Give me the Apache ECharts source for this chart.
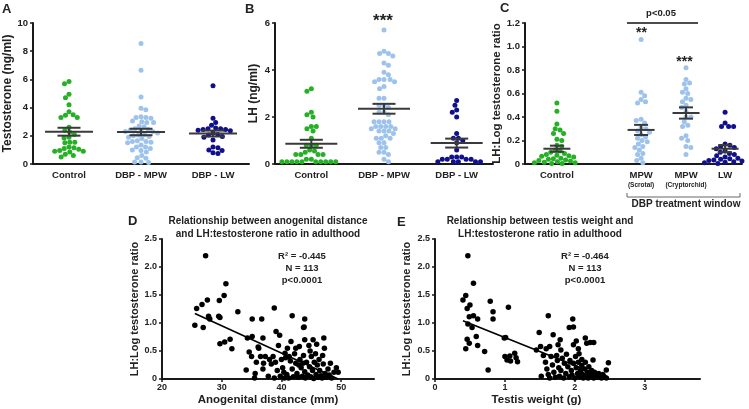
<!DOCTYPE html>
<html><head><meta charset="utf-8">
<script src="https://cdn.jsdelivr.net/npm/echarts@6/dist/echarts.min.js"></script>
<style>html,body{margin:0;padding:0;background:#fff}#c{width:749px;height:409px}</style>
</head><body><div id="c"></div>
<script>
// ---------------- data ----------------
const groupsAB = ['Control', 'DBP - MPW', 'DBP - LW'];
const groupsC = ['Control', 'MPW', 'MPW', 'LW'];
const groupsCsub = ['', '(Scrotal)', '(Cryptorchid)', ''];

const testoControl = [5.85, 5.7, 4.95, 4.7, 4.2, 3.7, 3.5, 3.45, 3.3, 3.3, 2.6, 2.4, 2.25, 2.1, 1.9, 1.85, 1.55, 1.55, 1.5, 1.2, 1.15, 1.1, 1.05, 0.95, 0.9, 0.9, 0.85, 0.7, 0.6, 0.5];
const testoMPW = [8.55, 6.65, 4.75, 3.95, 3.85, 3.35, 3.3, 3.3, 3.25, 3.05, 3.0, 2.95, 2.95, 2.7, 2.65, 2.5, 2.45, 2.4, 2.35, 2.3, 2.3, 2.2, 2.1, 2.05, 2.0, 1.95, 1.9, 1.8, 1.65, 1.6, 1.6, 1.55, 1.5, 1.35, 1.2, 1.2, 1.1, 1.0, 0.95, 0.85, 0.6, 0.45, 0.4, 0.15, 0.15, 0.1];
const testoLW = [5.55, 3.25, 2.95, 2.75, 2.55, 2.5, 2.5, 2.45, 2.45, 2.4, 2.35, 2.2, 2.1, 2.05, 1.95, 1.9, 1.7, 1.2, 1.15, 1.0, 0.95, 0.8, 0.75];

const lhControl = [3.2, 3.1, 2.2, 2.1, 2.0, 1.6, 1.6, 1.5, 1.4, 1.1, 0.8, 0.8, 0.8, 0.6, 0.55, 0.5, 0.4, 0.4, 0.4, 0.4, 0.2, 0.2, 0.1, 0.1, 0.1, 0.1, 0.1, 0.1, 0.1, 0.1, 0.1, 0.1];
const lhMPW = [5.7, 4.8, 4.7, 4.7, 4.6, 4.3, 4.2, 3.9, 3.8, 3.6, 3.6, 3.6, 3.5, 3.5, 3.3, 3.2, 2.8, 2.8, 2.5, 2.5, 2.4, 2.2, 2.2, 2.1, 1.8, 1.8, 1.8, 1.8, 1.6, 1.6, 1.6, 1.6, 1.5, 1.5, 1.4, 1.4, 1.4, 1.3, 1.2, 1.1, 1.1, 1.1, 0.9, 0.9, 0.7, 0.7, 0.5, 0.5, 0.4, 0.2, 0.1];
const lhLW = [2.7, 2.5, 2.3, 2.2, 2.0, 1.3, 1.1, 1.1, 1.0, 0.9, 0.6, 0.3, 0.3, 0.3, 0.2, 0.2, 0.2, 0.2, 0.1, 0.1, 0.1, 0.1, 0.1];

const ratioControl = [0.52, 0.45, 0.34, 0.3, 0.29, 0.26, 0.26, 0.21, 0.2, 0.16, 0.15, 0.12, 0.11, 0.1, 0.09, 0.08, 0.075, 0.07, 0.065, 0.06, 0.05, 0.045, 0.04, 0.035, 0.03, 0.025, 0.02, 0.015, 0.01, 0.01, 0.005, 0.005];
const ratioScrotal = [1.06, 0.61, 0.58, 0.55, 0.53, 0.52, 0.38, 0.37, 0.35, 0.31, 0.3, 0.28, 0.27, 0.25, 0.23, 0.22, 0.2, 0.19, 0.17, 0.15, 0.14, 0.12, 0.09, 0.08, 0.05, 0.03, 0.01];
const ratioCrypto = [0.82, 0.72, 0.69, 0.68, 0.64, 0.61, 0.6, 0.56, 0.55, 0.53, 0.5, 0.48, 0.45, 0.4, 0.4, 0.36, 0.33, 0.32, 0.24, 0.22, 0.2, 0.15, 0.14, 0.08];
const ratioLW = [0.44, 0.35, 0.32, 0.32, 0.32, 0.17, 0.16, 0.15, 0.14, 0.13, 0.11, 0.1, 0.09, 0.08, 0.07, 0.06, 0.05, 0.045, 0.04, 0.035, 0.03, 0.025, 0.02, 0.015, 0.01, 0.005];

const meanA = [2.29, 2.27, 2.16], semA = [0.28, 0.23, 0.21];
const meanB = [0.86, 2.35, 0.89], semB = [0.17, 0.21, 0.19];
const meanC = [0.13, 0.29, 0.434, 0.13], semC = [0.026, 0.043, 0.048, 0.03];

const agdPoints = [[27.3,2.20],[30.7,1.70],[30.4,1.49],[29.6,1.40],[27.6,1.41],[26.7,1.33],[25.8,1.26],[32.7,1.20],[38.8,1.27],[27.8,1.12],[28.0,1.07],[29.5,1.12],[29.7,1.10],[25.5,0.96],[26.9,0.92],[35.1,1.07],[36.7,1.07],[41.8,1.13],[43.9,1.07],[43.7,0.92],[43.8,0.93],[29.7,0.63],[30.5,0.66],[31.4,0.71],[34.3,0.73],[35.1,0.76],[36.9,0.73],[39.1,0.85],[39.7,0.78],[31.7,0.54],[34.6,0.48],[36.1,0.57],[41.6,0.67],[42.4,0.55],[43.9,0.70],[45.3,0.70],[47.1,0.73],[40.6,0.46],
[34.1,0.16],[35.6,0.10],[35.5,0.02],[35.0,0.40],[35.8,0.30],[36.5,0.40],[37.3,0.40],[37.0,0.28],[36.2,0.55],[38.0,0.35],[38.3,0.27],[38.6,0.40],[39.0,0.30],[39.3,0.15],[39.8,0.05],[40.0,0.35],[40.2,0.20],[40.4,0.12],[40.7,0.38],[41.0,0.55],[41.2,0.02],[41.5,0.32],[41.8,0.18],[42.0,0.04],[42.2,0.45],[42.4,0.28],[42.6,0.10],[42.8,0.03],[43.0,0.58],[43.1,0.35],[43.3,0.20],[43.5,0.05],[43.7,0.42],[43.9,0.13],[44.0,0.02],[44.2,0.30],[44.4,0.07],[44.6,0.60],[44.7,0.22],[44.9,0.04],[45.0,0.40],[45.2,0.15],[45.4,0.01],[45.5,0.30],[45.7,0.45],[45.8,0.08],[46.0,0.25],[46.1,0.03],[46.3,0.35],[46.4,0.15],[46.6,0.06],[46.8,0.02],[47.0,0.27],[47.2,0.55],[47.3,0.10],[47.5,0.03],[47.8,0.18],[48.0,0.07],[48.2,0.28],[48.4,0.02],[48.8,0.12],[49.2,0.20],[49.5,0.12],[37.8,0.05],[38.8,0.02],[40.9,0.08],[42.9,0.25],[44.8,0.50],[46.9,0.42],[39.5,0.60],[36.9,0.18],[41.3,0.40],[45.9,0.62],[43.6,0.28],[40.5,0.02]];

const testisPoints = [[0.47,2.20],[0.55,1.71],[0.44,1.49],[0.40,1.41],[0.50,1.32],[0.46,1.26],[0.49,1.11],[0.55,1.13],[0.61,1.07],[0.47,0.98],[0.53,0.92],[0.79,1.39],[0.83,1.20],[0.83,1.07],[1.05,1.28],[0.46,0.71],[0.49,0.64],[0.44,0.54],[0.59,0.76],[0.61,0.60],[0.71,0.49],[0.76,0.16],[0.99,0.73],[1.01,0.74],[1.00,0.40],[1.07,0.41],[1.03,0.34],[1.08,0.32],[1.14,0.46],[1.16,0.38],[1.18,0.31],[1.49,0.83],[1.62,1.13],[1.51,0.58],[1.59,0.54],[1.64,0.58],[1.69,0.79],[1.79,0.70],[1.76,0.61],[1.80,0.52],[1.92,0.92],[1.98,0.61],[2.02,0.68],[2.05,0.54],[1.97,1.07],[1.98,0.93],[2.15,0.73],[2.17,0.64],[2.22,0.65],[2.27,0.65],[2.10,0.35],[2.26,0.34],[2.48,0.29],[2.45,0.16],
[1.55,0.42],[1.58,0.30],[1.60,0.18],[1.62,0.08],[1.64,0.02],[1.66,0.40],[1.68,0.25],[1.70,0.12],[1.72,0.03],[1.74,0.42],[1.75,0.33],[1.77,0.20],[1.78,0.05],[1.80,0.15],[1.82,0.37],[1.84,0.02],[1.85,0.28],[1.87,0.10],[1.88,0.44],[1.90,0.22],[1.92,0.04],[1.93,0.33],[1.95,0.15],[1.96,0.07],[1.98,0.28],[2.00,0.02],[2.01,0.40],[2.02,0.20],[2.04,0.10],[2.05,0.30],[2.07,0.04],[2.08,0.15],[2.10,0.24],[2.11,0.08],[2.12,0.02],[2.14,0.18],[2.15,0.30],[2.16,0.06],[2.18,0.12],[2.19,0.02],[2.20,0.22],[2.21,0.09],[2.23,0.04],[2.24,0.15],[2.25,0.06],[2.27,0.02],[2.28,0.12],[2.30,0.07],[2.32,0.03],[2.34,0.10],[2.36,0.05],[2.38,0.02],[2.40,0.08],[2.42,0.04],[2.45,0.02],[1.45,0.52],[1.52,0.05],[2.06,0.45]];

const agdFit = [[25.5, 1.17], [49.5, 0.0]];
const testisFit = [[0.40, 1.04], [2.48, 0.0]];

// ---------------- layout / style ----------------
const FONT = '"Liberation Sans", Arial, Helvetica, sans-serif';
const TXT = '#222';
const COLORS = ['#25B025', '#9DC3EC', '#10108C'];
const posAB = [0, 1, 2];
const posC = [1.47, 5.35, 7.42, 9.22];
const DOT = 5, GAP = 5.0;

const axLine = {show: true, onZero: false, lineStyle: {color: '#1a1a1a', width: 2}};
const lbl = {fontFamily: FONT, fontWeight: 'bold', fontSize: 9.5, color: TXT};
const nameStyle = (fs) => ({fontFamily: FONT, fontWeight: 'bold', fontSize: fs, color: TXT});
const dec1 = v => v === 0 ? '0' : v.toFixed(1);

function catX(g, min, max, vals, fmt) {
  return {gridIndex: g, type: 'value', min, max, axisLine: axLine, splitLine: {show: false},
    axisTick: {show: false},
    axisLabel: Object.assign({customValues: vals, formatter: fmt, margin: 6}, lbl)};
}
function valY(g, max, interval, name, gap, fs, fmt, lfs) {
  return {gridIndex: g, type: 'value', min: 0, max, interval, axisLine: axLine, splitLine: {show: false},
    axisTick: {show: true, length: 3, lineStyle: {color: '#1a1a1a', width: 1.5}},
    axisLabel: Object.assign({margin: 5, formatter: fmt}, lbl, {fontSize: lfs || 9.5}),
    name, nameLocation: 'middle', nameGap: gap, nameTextStyle: nameStyle(fs)};
}
const nearestIdx = (arr, v) => arr.reduce((b, x, i) => Math.abs(x - v) < Math.abs(arr[b] - v) ? i : b, 0);

const option = {
  animation: false,
  backgroundColor: '#fff',
  grid: [
    {left: 33, top: 23, width: 216, height: 141},
    {left: 275, top: 23, width: 218, height: 141},
    {left: 525, top: 23, width: 217, height: 141},
    {left: 162, top: 239, width: 212, height: 140},
    {left: 435, top: 239, width: 265, height: 140}
  ],
  xAxis: [
    catX(0, -0.5, 2.5, posAB, v => groupsAB[nearestIdx(posAB, v)]),
    catX(1, -0.5, 2.5, posAB, v => groupsAB[nearestIdx(posAB, v)]),
    catX(2, 0, 10, posC, v => {
      const i = nearestIdx(posC, v);
      return groupsCsub[i] ? '{a|' + groupsC[i] + '}\n{b|' + groupsCsub[i] + '}' : '{a|' + groupsC[i] + '}';
    }),
    {gridIndex: 3, type: 'value', min: 20, max: 55.5, axisLine: axLine, splitLine: {show: false},
      axisTick: {show: true, customValues: [20, 30, 40, 50], length: 3, lineStyle: {color: '#1a1a1a', width: 1.5}},
      axisLabel: Object.assign({customValues: [20, 30, 40, 50], margin: 4}, lbl, {fontSize: 9}),
      name: 'Anogenital distance (mm)', nameLocation: 'middle', nameGap: 15, nameTextStyle: nameStyle(11.5)},
    {gridIndex: 4, type: 'value', min: 0, max: 3.79, axisLine: axLine, splitLine: {show: false},
      axisTick: {show: true, customValues: [0, 1, 2, 3], length: 3, lineStyle: {color: '#1a1a1a', width: 1.5}},
      axisLabel: Object.assign({customValues: [0, 1, 2, 3], margin: 4}, lbl, {fontSize: 9}),
      name: 'Testis weight (g)', nameLocation: 'middle', nameGap: 15,
      nameTextStyle: Object.assign(nameStyle(11.5), {padding: [0, 62, 0, 0]})}
  ],
  yAxis: [
    valY(0, 10, 2, 'Testosterone (ng/ml)', 19, 12),
    valY(1, 6, 2, 'LH (ng/ml)', 15, 12),
    valY(2, 1.2, 0.2, 'LH:Log testosterone ratio', 13, 11.5, dec1),
    valY(3, 2.5, 0.5, 'LH:Log testosterone ratio', 22, 11, dec1, 9),
    valY(4, 2.5, 0.5, 'LH:Log testosterone ratio', 23, 11, dec1, 9)
  ],
  series: [],
  graphic: []
};
option.xAxis[2].axisLabel.rich = {
  a: {fontFamily: FONT, fontWeight: 'bold', fontSize: 9.5, color: TXT, lineHeight: 11},
  b: {fontFamily: FONT, fontWeight: 'bold', fontSize: 6.5, color: TXT, lineHeight: 9}
};

// ---------- graphic texts ----------
function txt(x, y, text, size, align, vAlign, lh) {
  return {type: 'text', x, y, silent: true, z: 100,
    style: {text, fill: TXT, font: 'bold ' + size + 'px ' + FONT,
      align: align || 'center', verticalAlign: vAlign || 'middle',
      textAlign: align || 'center', textVerticalAlign: vAlign || 'middle', lineHeight: lh}};
}
option.graphic = [
  txt(2, 9, 'A', 13, 'left'), txt(245, 9, 'B', 13, 'left'), txt(500, 8, 'C', 13, 'left'),
  txt(128, 221, 'D', 13, 'left'), txt(397, 222, 'E', 13, 'left'),
  txt(383, 21, '***', 17), txt(641.5, 33, '**', 14), txt(684.5, 62, '***', 14),
  txt(661, 13.5, 'p<0.05', 9.5),
  {type: 'line', shape: {x1: 627, y1: 23, x2: 698, y2: 23}, style: {stroke: '#111', lineWidth: 1.3}},
  {type: 'polyline', shape: {points: [[627, 193], [627, 197], [740, 197], [740, 193]]}, style: {stroke: '#666', lineWidth: 1, fill: null}},
  txt(686, 204, 'DBP treatment window', 10),
  txt(268, 228, 'Relationship between anogenital distance\nand LH:testosterone ratio in adulthood', 10, 'center', 'middle', 13),
  txt(540, 228, 'Relationship between testis weight and\nLH:testosterone ratio in adulthood', 10, 'center', 'middle', 13),
  txt(302, 268, 'R\u00B2 = -0.445\nN = 113\np<0.0001', 9.5, 'center', 'middle', 12),
  txt(585, 268, 'R\u00B2 = -0.464\nN = 113\np<0.0001', 9.5, 'center', 'middle', 12)
];

// ---------- series ----------
function meanSeries(g, pos, means, sems, w, cw) {
  return {type: 'custom', xAxisIndex: g, yAxisIndex: g, z: 5, silent: true,
    data: pos.map((p, i) => [p, means[i], sems[i]]),
    renderItem: (params, api) => {
      const m = api.coord([api.value(0), api.value(1)]);
      const t = api.coord([api.value(0), api.value(1) + api.value(2)]);
      const b = api.coord([api.value(0), api.value(1) - api.value(2)]);
      const st = {stroke: '#3a3a3a', lineWidth: 2};
      return {type: 'group', children: [
        {type: 'line', shape: {x1: m[0] - w / 2, y1: m[1], x2: m[0] + w / 2, y2: m[1]}, style: st},
        {type: 'line', shape: {x1: t[0] - cw / 2, y1: t[1], x2: t[0] + cw / 2, y2: t[1]}, style: st},
        {type: 'line', shape: {x1: b[0] - cw / 2, y1: b[1], x2: b[0] + cw / 2, y2: b[1]}, style: st},
        {type: 'line', shape: {x1: t[0], y1: t[1], x2: b[0], y2: b[1]}, style: st}
      ]};
    }};
}
const dotSeries = (g, data, color, size) => ({type: 'scatter', xAxisIndex: g, yAxisIndex: g, data,
  symbolSize: size || DOT, itemStyle: {color, opacity: 1}, clip: false, silent: true, z: 3});

const panels = [
  {g: 0, pos: posAB, groups: [testoControl, testoMPW, testoLW], colors: COLORS},
  {g: 1, pos: posAB, groups: [lhControl, lhMPW, lhLW], colors: COLORS},
  {g: 2, pos: posC, groups: [ratioControl, ratioScrotal, ratioCrypto, ratioLW], colors: [COLORS[0], COLORS[1], COLORS[1], COLORS[2]]}
];

function baseSeries(swarmed) {
  const s = [];
  panels.forEach((p, pi) => p.groups.forEach((vals, gi) => {
    s.push(dotSeries(p.g, swarmed ? swarmed[pi][gi] : vals.map(v => [p.pos[gi], v]), p.colors[gi]));
  }));
  s.push(meanSeries(0, posAB, meanA, semA, 48, 23));
  s.push(meanSeries(1, posAB, meanB, semB, 52, 23));
  s.push(meanSeries(2, posC, meanC, semC, 27, 14));
  s.push(dotSeries(3, agdPoints, '#000', 5.5));
  s.push(dotSeries(4, testisPoints, '#000', 5.5));
  s.push({type: 'line', xAxisIndex: 3, yAxisIndex: 3, data: agdFit, symbol: 'none', silent: true, z: 4,
    lineStyle: {color: '#000', width: 1.6}});
  s.push({type: 'line', xAxisIndex: 4, yAxisIndex: 4, data: testisFit, symbol: 'none', silent: true, z: 4,
    lineStyle: {color: '#000', width: 1.6}});
  return s;
}

const chart = echarts.init(document.getElementById('c'), null, {renderer: 'canvas'});
option.series = baseSeries(null);
chart.setOption(option);

// beeswarm layout computed in pixel space via the chart's own scales
function swarm(values, g, cx, d) {
  const base = chart.convertToPixel({gridIndex: g}, [cx, 0]);
  const pts = values.map(v => ({v, py: chart.convertToPixel({gridIndex: g}, [cx, v])[1], dx: 0}));
  const order = pts.slice().sort((a, b) => b.v - a.v);
  const placed = [];
  order.forEach((p, k) => {
    const near = placed.filter(q => Math.abs(q.py - p.py) < d);
    const cands = [0];
    near.forEach(q => { const w = Math.sqrt(d * d - (q.py - p.py) ** 2); cands.push(q.dx + w, q.dx - w); });
    const sgn = k % 2 ? 1 : -1;
    cands.sort((a, b) => (Math.abs(a) - Math.abs(b)) || (sgn * (a - b)));
    for (const c of cands) {
      if (near.every(q => (q.dx - c) ** 2 + (q.py - p.py) ** 2 >= d * d - 0.01)) { p.dx = c; break; }
    }
    placed.push(p);
  });
  return pts.map(p => [chart.convertFromPixel({gridIndex: g}, [base[0] + p.dx, p.py])[0], p.v]);
}
const swarmed = panels.map(p => p.groups.map((vals, gi) => swarm(vals, p.g, p.pos[gi], GAP)));
chart.setOption({series: baseSeries(swarmed)});
</script></body></html>
